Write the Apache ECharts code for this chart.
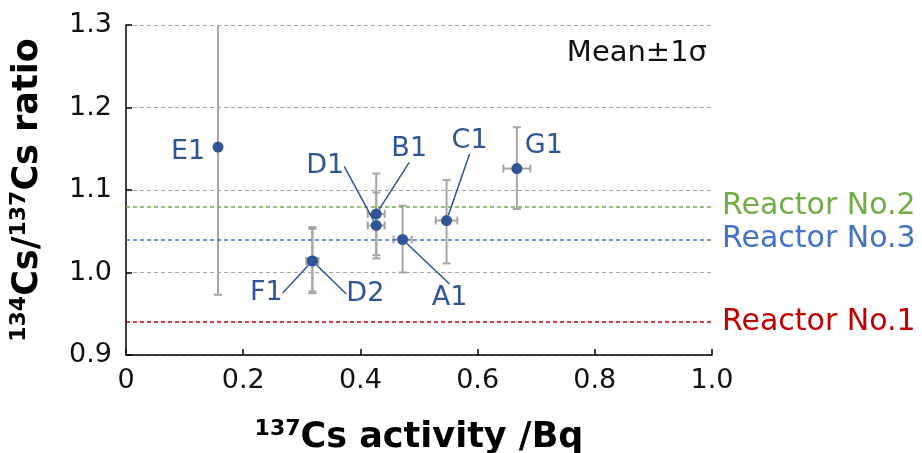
<!DOCTYPE html>
<html>
<head>
<meta charset="utf-8">
<script src="https://cdn.jsdelivr.net/npm/echarts@6/dist/echarts.min.js"></script>
<style>html,body{margin:0;padding:0;background:#fff;overflow:hidden}#c{width:922px;height:453px}</style>
</head>
<body>
<div id="c"></div>
<script>
// ---- data ----
var names = ['E1', 'D1', 'B1', 'C1', 'G1', 'A1', 'D2', 'F1'];
var activity = [0.157, 0.427, 0.427, 0.547, 0.667, 0.472, 0.318, 0.318];
var ratio = [1.152, 1.057, 1.071, 1.063, 1.126, 1.040, 1.014, 1.014];
var ratioLow = [0.973, 1.017, 1.021, 1.011, 1.077, 1.000, 0.975, 0.977];
var ratioHigh = [1.331, 1.097, 1.120, 1.112, 1.176, 1.081, 1.053, 1.055];
var activityErr = [0, 0.0145, 0.0145, 0.0185, 0.023, 0.0155, 0.010, 0.010];
var reactorNames = ['Reactor No.2', 'Reactor No.3', 'Reactor No.1'];
var reactorRatio = [1.0827, 1.0435, 0.9384];
var xTicks = ['0', '0.2', '0.4', '0.6', '0.8', '1.0'];
var yTicks = ['0.9', '1.0', '1.1', '1.2', '1.3'];

// ---- styles ----
var FONT = 'DejaVu Sans';
var reactorColors = ['#70AD47', '#4472C4', '#C00000'];
var pointColor = '#2F5597';
var labelOffsets = {
  E1: [-30, 5], D1: [-51, -59], B1: [33, -65], C1: [23, -80],
  G1: [27, -23], A1: [47, 58], D2: [53, 33], F1: [-46, 32]
};
var noLine = { E1: true, G1: true };

var pointData = names.map(function (n, i) {
  return {
    name: n,
    value: [activity[i], ratio[i]],
    labelLine: { show: !noLine[n] }
  };
});
var errData = names.map(function (n, i) {
  return [activity[i], ratio[i], ratioLow[i], ratioHigh[i], activityErr[i]];
});

var titleRich = {
  s: { fontSize: 22, fontWeight: 'bold', fontFamily: FONT, color: '#000', verticalAlign: 'top', lineHeight: 22 },
  b: { fontSize: 35, fontWeight: 'bold', fontFamily: FONT, color: '#000', lineHeight: 40 }
};

var chart = echarts.init(document.getElementById('c'), null, { renderer: 'canvas' });
chart.setOption({
  animation: false,
  backgroundColor: '#ffffff',
  grid: { left: 126, right: 210, top: 25, bottom: 98, containLabel: false, outerBoundsMode: 'none' },
  xAxis: {
    type: 'value', min: 0, max: 1, interval: 0.2,
    axisLine: { lineStyle: { color: '#000', width: 1.5 } },
    axisTick: { inside: true, length: 6, lineStyle: { color: '#000', width: 1.5 } },
    splitLine: { show: false },
    axisLabel: {
      margin: 12, color: '#111', fontFamily: FONT, fontSize: 27,
      formatter: function (v) { return xTicks[Math.round(v / 0.2)]; }
    },
    name: '{s|137}{b|Cs activity /Bq}',
    nameLocation: 'middle', nameGap: 63,
    nameTextStyle: { rich: titleRich }
  },
  yAxis: {
    type: 'value', min: 0.9, max: 1.3, interval: 0.1,
    axisLine: { show: true, lineStyle: { color: '#000', width: 1.5 } },
    axisTick: { show: true, inside: true, length: 6, lineStyle: { color: '#000', width: 1.5 } },
    splitLine: { show: true, lineStyle: { color: '#A6A6A6', type: [4, 3], width: 1.2 } },
    axisLabel: {
      margin: 14, color: '#111', fontFamily: FONT, fontSize: 27,
      formatter: function (v) { return yTicks[Math.round((v - 0.9) / 0.1)]; }
    },
    name: '{s|134}{b|Cs/}{s|137}{b|Cs ratio}',
    nameLocation: 'middle', nameGap: 78, nameRotate: 90,
    nameTextStyle: { rich: titleRich }
  },
  graphic: [{
    type: 'text', right: 215, top: 39, z: 10,
    style: { text: 'Mean\u00B11\u03C3', fontFamily: FONT, fontSize: 29, fill: '#111' }
  }],
  series: [
    {
      type: 'custom', name: 'err', clip: true, z: 2,
      data: errData,
      encode: { x: 0, y: [1, 2, 3] },
      renderItem: function (params, api) {
        var x = api.value(0), y = api.value(1), lo = api.value(2), hi = api.value(3), xe = api.value(4);
        var c = api.coord([x, y]);
        var pLo = api.coord([x, lo]);
        var pHi = api.coord([x, hi]);
        var st = { stroke: '#A5A5A5', lineWidth: 2 };
        var cap = 4;
        var children = [
          { type: 'line', shape: { x1: pLo[0], y1: pLo[1], x2: pHi[0], y2: pHi[1] }, style: st },
          { type: 'line', shape: { x1: pLo[0] - cap, y1: pLo[1], x2: pLo[0] + cap, y2: pLo[1] }, style: st },
          { type: 'line', shape: { x1: pHi[0] - cap, y1: pHi[1], x2: pHi[0] + cap, y2: pHi[1] }, style: st }
        ];
        if (xe > 0) {
          var pL = api.coord([x - xe, y]);
          var pR = api.coord([x + xe, y]);
          children.push(
            { type: 'line', shape: { x1: pL[0], y1: c[1], x2: pR[0], y2: c[1] }, style: st },
            { type: 'line', shape: { x1: pL[0], y1: c[1] - cap, x2: pL[0], y2: c[1] + cap }, style: st },
            { type: 'line', shape: { x1: pR[0], y1: c[1] - cap, x2: pR[0], y2: c[1] + cap }, style: st }
          );
        }
        return { type: 'group', children: children };
      }
    },
    {
      type: 'scatter', name: 'points', z: 5,
      symbol: 'circle', symbolSize: 11,
      itemStyle: { color: pointColor, opacity: 1 },
      data: pointData,
      label: {
        show: true, position: 'inside', formatter: '{b}',
        color: pointColor, fontFamily: FONT, fontSize: 27
      },
      labelLine: { show: true, lineStyle: { color: pointColor, width: 1.5 } },
      labelLayout: function (p) {
        var o = labelOffsets[names[p.dataIndex]];
        return { dx: o[0], dy: o[1] };
      },
      markLine: {
        silent: true, symbol: 'none',
        data: reactorNames.map(function (n, i) {
          return {
            name: n, yAxis: reactorRatio[i],
            lineStyle: { color: reactorColors[i], type: [4, 3], width: 1.5 },
            label: { show: true, position: 'end', formatter: n, color: reactorColors[i], fontFamily: FONT, fontSize: 30, distance: 10 }
          };
        })
      }
    }
  ]
});
</script>
</body>
</html>
